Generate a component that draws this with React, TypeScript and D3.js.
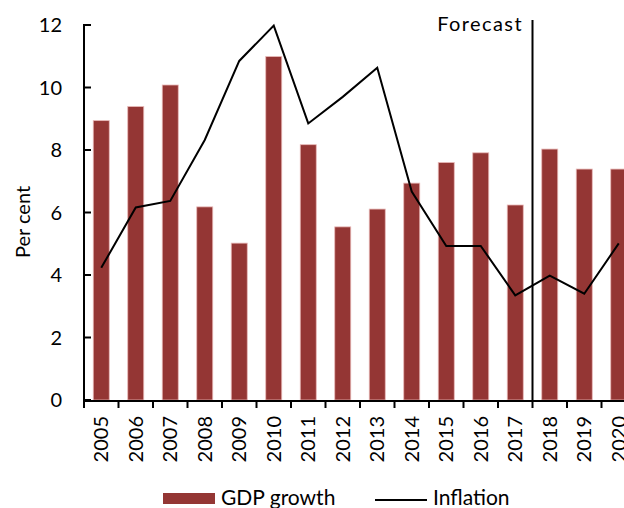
import React from "react";
import * as d3 from "d3";

const years = ["2005","2006","2007","2008","2009","2010","2011","2012","2013","2014","2015","2016","2017","2018","2019","2020"];
const gdpGrowth = [8.94, 9.39, 10.08, 6.18, 5.02, 10.99, 8.17, 5.54, 6.11, 6.94, 7.6, 7.91, 6.24, 8.03, 7.39, 7.39];
const inflation = [4.23, 6.16, 6.37, 8.32, 10.85, 11.98, 8.85, 9.7, 10.63, 6.67, 4.93, 4.93, 3.35, 3.98, 3.4, 5.01];
const yTicks = [0, 2, 4, 6, 8, 10, 12];
const forecastStart = "2018";

const W = 624, H = 508;
const FONT = "Lato, 'Open Sans', sans-serif";

export default function App() {
  const x = d3.scaleBand<string>().domain(years).range([84, 84 + 16 * 34.5]).paddingInner(0.536).paddingOuter(0.268);
  const step = x.step();
  const y = d3.scaleLinear().domain([0, 12]).range([400, 25]);
  const line = d3.line<number>()
    .x((_, i) => (x(years[i]) as number) + x.bandwidth() / 2)
    .y((d) => y(d));
  const axisX = 84;
  const boundaries = years.map((yr) => (x(yr) as number) - (step - x.bandwidth()) / 2);
  const fx = (x(forecastStart) as number) - (step - x.bandwidth()) / 2;

  return (
    <svg width={W} height={H} style={{ position: "absolute", left: 0, top: 0, background: "#fff" }} fontFamily={FONT}>
      {/* bars */}
      {gdpGrowth.map((v, i) => (
        <rect key={years[i]} x={x(years[i])} y={y(v)} width={x.bandwidth()} height={y(0) - y(v)}
          fill="#943634" stroke="#e8b8b7" strokeWidth={0.8} />
      ))}
      {/* inflation line */}
      <path d={line(inflation) || ""} fill="none" stroke="#000" strokeWidth={2} strokeLinejoin="miter" />
      {/* forecast line */}
      <line x1={fx} x2={fx} y1={20} y2={y(0)} stroke="#000" strokeWidth={2} />
      <text x={523} y={31} textAnchor="end" fontSize={20} letterSpacing={1.4} fill="#000">Forecast</text>
      {/* y axis */}
      <line x1={axisX} x2={axisX} y1={y(12) - 1} y2={y(0) + 2} stroke="#000" strokeWidth={2} />
      {yTicks.map((t) => (
        <g key={t}>
          <line x1={axisX} x2={axisX + 7} y1={y(t)} y2={y(t)} stroke="#000" strokeWidth={2} />
          <text x={62} y={y(t)} dy="0.36em" textAnchor="end" fontSize={20} fill="#000">{t}</text>
        </g>
      ))}
      <text transform={`translate(30,222) rotate(-90)`} textAnchor="middle" fontSize={20} fill="#000">Per cent</text>
      {/* x axis */}
      <line x1={axisX} x2={W} y1={y(0) + 1} y2={y(0) + 1} stroke="#000" strokeWidth={2} />
      {boundaries.map((b, i) => (
        <line key={i} x1={b} x2={b} y1={y(0)} y2={y(0) + 8} stroke="#000" strokeWidth={2} />
      ))}
      {years.map((yr) => (
        <text key={yr} transform={`translate(${(x(yr) as number) + x.bandwidth() / 2 + 7},416) rotate(-90)`}
          textAnchor="end" fontSize={20} fill="#000">{yr}</text>
      ))}
      {/* legend */}
      <rect x={163} y={493} width={52} height={11} fill="#943634" />
      <text x={221} y={505} fontSize={21} fill="#000">GDP growth</text>
      <line x1={375} x2={427} y1={500} y2={500} stroke="#000" strokeWidth={2} />
      <text x={433} y={505} fontSize={21} fill="#000">Inflation</text>
    </svg>
  );
}
